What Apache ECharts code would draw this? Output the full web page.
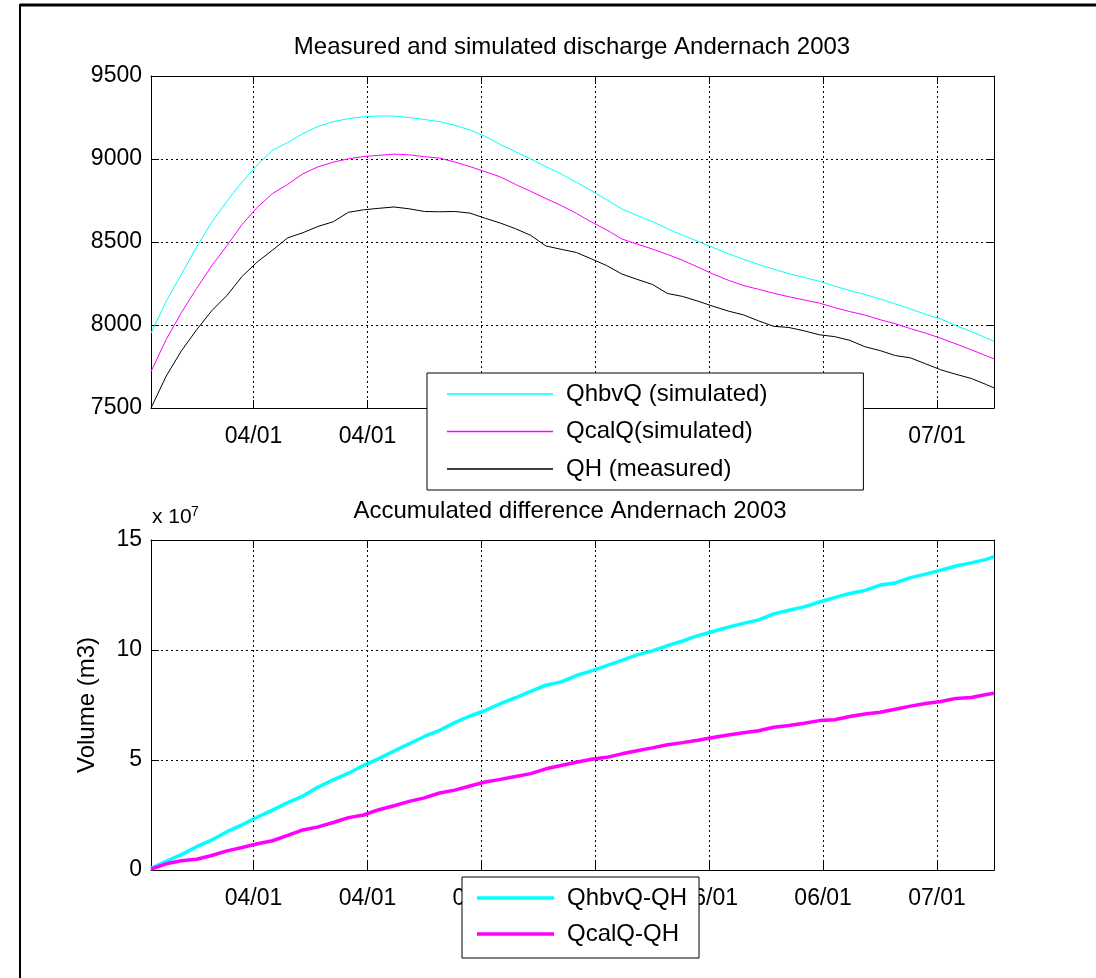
<!DOCTYPE html>
<html>
<head>
<meta charset="utf-8">
<script src="https://cdn.jsdelivr.net/npm/echarts@6/dist/echarts.min.js"></script>
<style>
  html, body { margin: 0; padding: 0; background: #fff; }
  #chart { width: 1096px; height: 978px; }
</style>
</head>
<body>
<div id="chart"></div>
<script>
// Day offsets of the samples (2-day step) and the date ticks
const days = [0,2,4,6,8,10,12,14,16,18,20,22,24,26,28,30,32,34,36,38,40,42,44,46,48,50,52,54,56,58,60,62,64,66,68,70,72,74,76,78,80,82,84,86,88,90,92,94,96,98,100,102,104,106,108,110,111];
const tickDays = [13.5, 28.5, 43.5, 58.5, 73.5, 88.5, 103.5];
const tickLabels = ['04/01', '04/01', '05/01', '05/01', '06/01', '06/01', '07/01'];

// Discharge (m3/s)
const qhbvQ = [7950,8143,8306,8469,8620,8746,8862,8964,9053,9099,9153,9196,9225,9243,9255,9259,9259,9250,9238,9225,9203,9175,9137,9087,9044,9000,8954,8910,8860,8809,8755,8700,8660,8624,8580,8541,8504,8467,8430,8396,8365,8336,8309,8287,8263,8234,8208,8184,8157,8127,8097,8064,8036,7996,7961,7922,7902];
const qcalQ = [7719,7913,8075,8220,8357,8478,8606,8709,8792,8847,8911,8953,8981,9001,9015,9022,9029,9025,9014,9005,8982,8954,8924,8892,8847,8805,8762,8720,8673,8620,8573,8518,8488,8458,8425,8390,8349,8307,8270,8238,8215,8191,8170,8151,8132,8105,8081,8060,8032,8008,7978,7951,7920,7886,7851,7814,7796];
const qhMeasured = [7500,7692,7844,7971,8086,8178,8293,8380,8451,8525,8556,8594,8622,8679,8694,8703,8711,8700,8684,8682,8684,8674,8643,8614,8580,8540,8476,8456,8437,8398,8358,8307,8275,8245,8190,8172,8144,8113,8084,8061,8025,7992,7985,7965,7941,7930,7908,7869,7846,7816,7802,7766,7730,7703,7678,7641,7621];

// Accumulated difference volume, in units of 1e7 m3
const accHbv = [0.07,0.39,0.70,1.06,1.36,1.74,2.05,2.41,2.72,3.06,3.36,3.77,4.10,4.40,4.76,5.06,5.41,5.74,6.07,6.35,6.70,7.00,7.25,7.56,7.83,8.12,8.40,8.55,8.84,9.05,9.29,9.53,9.78,9.96,10.20,10.41,10.65,10.84,11.04,11.21,11.37,11.64,11.81,11.96,12.18,12.38,12.57,12.71,12.95,13.05,13.29,13.45,13.63,13.82,13.96,14.12,14.24];
const accCal = [0.04,0.28,0.42,0.49,0.66,0.87,1.02,1.19,1.33,1.57,1.82,1.96,2.16,2.38,2.50,2.74,2.92,3.12,3.28,3.50,3.63,3.82,4.00,4.12,4.25,4.38,4.60,4.75,4.90,5.03,5.12,5.28,5.42,5.55,5.69,5.79,5.90,6.02,6.14,6.24,6.33,6.49,6.57,6.67,6.79,6.83,6.98,7.09,7.17,7.31,7.45,7.57,7.66,7.80,7.84,7.98,8.03];

const FONT = "'Liberation Sans', Arial, Helvetica, sans-serif";
const CYAN = '#00ffff', MAGENTA = '#ff00ff', BLACK = '#000000';
const GRID_LEFT = 151, GRID_RIGHT = 102;

const pairs = (ys) => days.map((d, i) => [d, ys[i]]);
const tickFmt = (v) => { const i = tickDays.indexOf(v); return i >= 0 ? tickLabels[i] : ''; };
const plainNum = (v) => String(v);
const dotted = { type: [2, 3], color: '#000', width: 1 };
const tickStyle = { show: true, inside: true, length: 8, lineStyle: { color: '#000', width: 1 } };
const lineAxis = { show: true, onZero: false, lineStyle: { color: '#000', width: 1 } };
const labelFont = { fontSize: 23, color: '#000', fontFamily: FONT };

function dateAxes(gridIndex) {
  return [
    {
      gridIndex, type: 'value', min: 0, max: 111, position: 'bottom',
      axisLine: lineAxis,
      axisTick: Object.assign({ customValues: tickDays }, tickStyle),
      axisLabel: Object.assign({ customValues: tickDays, formatter: tickFmt, margin: 17 }, labelFont),
      splitLine: { show: true, lineStyle: dotted }
    },
    {
      gridIndex, type: 'value', min: 0, max: 111, position: 'top',
      axisLine: lineAxis,
      axisTick: Object.assign({ customValues: tickDays }, tickStyle),
      axisLabel: { show: false },
      splitLine: { show: false }
    }
  ];
}

function valueAxes(gridIndex, min, max, interval, extra) {
  return [
    Object.assign({
      gridIndex, type: 'value', min, max, interval, position: 'left',
      axisLine: lineAxis, axisTick: tickStyle,
      axisLabel: Object.assign({ margin: 9, formatter: plainNum }, labelFont),
      splitLine: { show: true, lineStyle: dotted }
    }, extra || {}),
    {
      gridIndex, type: 'value', min, max, interval, position: 'right',
      axisLine: lineAxis, axisTick: tickStyle,
      axisLabel: { show: false }, splitLine: { show: false }
    }
  ];
}

const legendBase = {
  orient: 'vertical', selectedMode: false, icon: 'rect',
  backgroundColor: '#fff', borderColor: '#000', borderWidth: 1, borderRadius: 0,
  itemStyle: { borderWidth: 0 },
  textStyle: { fontSize: 24, color: '#000', fontFamily: FONT, padding: [0, 0, 0, 8] },
  z: 20
};

function lineSeries(name, values, color, width, axisIndex) {
  return {
    name, type: 'line', xAxisIndex: axisIndex, yAxisIndex: axisIndex, data: pairs(values),
    symbol: 'none', color,
    itemStyle: { color, borderColor: color, borderWidth: 0 },
    lineStyle: { color, width }
  };
}

const option = {
  animation: false,
  backgroundColor: '#fff',
  grid: [
    { left: GRID_LEFT, right: GRID_RIGHT, top: 76, height: 332 },
    { left: GRID_LEFT, right: GRID_RIGHT, top: 540, height: 330 }
  ],
  xAxis: [...dateAxes(0), ...dateAxes(1)],
  yAxis: [
    ...valueAxes(0, 7500, 9500, 500),
    ...valueAxes(1, 0, 15, 5, {
      name: 'Volume (m3)', nameLocation: 'middle', nameGap: 52,
      nameTextStyle: { fontSize: 24, color: '#000', fontFamily: FONT }
    })
  ],
  legend: [
    Object.assign({}, legendBase, {
      data: ['QhbvQ (simulated)', 'QcalQ(simulated)', 'QH (measured)'],
      left: 427, top: 373, padding: [9, 96, 9, 20],
      itemWidth: 106, itemHeight: 1.5, itemGap: 13.5
    }),
    Object.assign({}, legendBase, {
      data: ['QhbvQ-QH', 'QcalQ-QH'],
      left: 462, top: 877, padding: [9, 12, 12, 15],
      itemWidth: 77, itemHeight: 3.5, itemGap: 12
    })
  ],
  series: [
    lineSeries('QhbvQ (simulated)', qhbvQ, CYAN, 1, 0),
    lineSeries('QcalQ(simulated)', qcalQ, MAGENTA, 1, 0),
    lineSeries('QH (measured)', qhMeasured, BLACK, 1, 0),
    lineSeries('QhbvQ-QH', accHbv, CYAN, 3.5, 2),
    lineSeries('QcalQ-QH', accCal, MAGENTA, 3.5, 2)
  ],
  graphic: [
    // figure frame
    { type: 'line', shape: { x1: 20, y1: 5, x2: 1096, y2: 5 }, style: { stroke: '#000', lineWidth: 3 } },
    { type: 'line', shape: { x1: 20, y1: 4, x2: 20, y2: 978 }, style: { stroke: '#000', lineWidth: 2 } },
    // plot titles
    { type: 'text', x: 572, y: 47, style: { text: 'Measured and simulated discharge Andernach 2003',
      font: '24px ' + FONT, fill: '#000', align: 'center', verticalAlign: 'middle' } },
    { type: 'text', x: 570, y: 511, style: { text: 'Accumulated difference Andernach 2003',
      font: '24px ' + FONT, fill: '#000', align: 'center', verticalAlign: 'middle' } },
    // axis exponent
    { type: 'text', x: 152, y: 528, style: { text: 'x 10', font: '21px ' + FONT, fill: '#000',
      align: 'left', verticalAlign: 'bottom' } },
    { type: 'text', x: 191, y: 505, style: { text: '7', font: '14px ' + FONT, fill: '#000',
      align: 'left', verticalAlign: 'top' } }
  ]
};

echarts.init(document.getElementById('chart'), null, { renderer: 'canvas' }).setOption(option);
</script>
</body>
</html>
